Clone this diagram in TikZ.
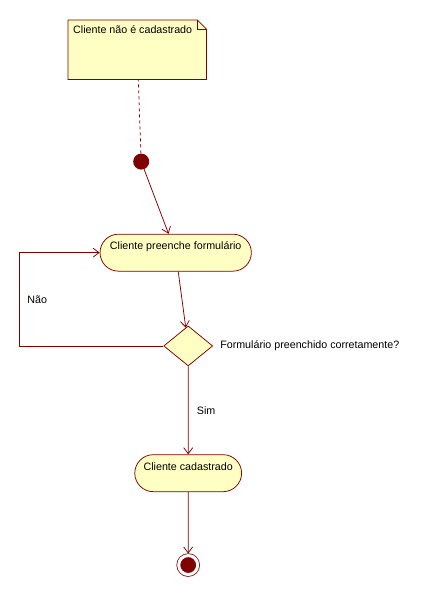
\documentclass[tikz,border=0pt]{standalone}
\usepackage{fontspec}
\setmainfont{Liberation Sans}
\usetikzlibrary{shapes.geometric,shapes.misc,arrows.meta,positioning,backgrounds}
\definecolor{umlline}{RGB}{128,0,0}
\definecolor{umlfill}{RGB}{255,255,196}

\begin{document}
\begin{tikzpicture}[
    font=\fontsize{10.7}{13}\selectfont,
    >={Straight Barb[length=6pt,width=9pt]},
    every edge/.style={draw=umlline, line width=0.75pt},
    note/.style={rectangle, minimum width=138pt, minimum height=59pt, inner sep=0pt},
    action/.style={rounded rectangle, draw=umlline, fill=umlfill, line width=0.75pt,
                   minimum height=37pt, text height=8pt, text depth=14pt},
    initial/.style={circle, fill=umlline, minimum size=16pt, inner sep=0pt},
    final/.style={circle, draw=umlline, fill=umlline, line width=0.75pt,
                  double=white, double distance=3pt, minimum size=19pt,
                  inner sep=0pt, outer sep=2pt},
    decision/.style={diamond, draw=umlline, fill=umlfill, line width=0.75pt,
                     minimum width=49pt, minimum height=40pt, inner sep=0pt},
    txt/.style={inner sep=0pt}]
    \useasboundingbox (0,0) rectangle (424pt,-593pt);

    \node[note] (note) [anchor=north west] at (68pt,-20pt)
      [label={[anchor=north west, inner sep=5pt]north west:Cliente não é cadastrado}] {};
    \node[initial] (start) [below=74pt of note, xshift=4pt] {}
      edge [dash pattern=on 3pt off 3pt] (note);

    \node[action, minimum width=158pt] (preenche) [below=64pt of start, xshift=34.5pt] {Cliente preenche formulário}
      edge [<-] (start);

    \node[decision] (check) [below=54pt of preenche, xshift=12.5pt] {}
      edge [<-] (preenche);
    \node[txt] (question) [right=7pt of check] {Formulário preenchido corretamente?};

    \node[action, minimum width=113.5pt] (cadastrado) [below=88pt of check] {Cliente cadastrado}
      edge [<-] node [right=5pt] {Sim} (check);

    \node[final] (end) [below=61.5pt of cadastrado] {}
      edge [<-] (cadastrado);

    \draw[->, draw=umlline, line width=0.75pt] (check.west)
      -| node [pos=0.75, right=4pt] {Não} ([xshift=-80pt]preenche.west) -- (preenche.west);

    % note with folded corner
    \begin{scope}[on background layer]
      \draw[draw=umlline, fill=umlfill, line width=0.75pt]
        (note.south west) -- (note.north west) -- ([xshift=-9pt]note.north east)
        -- ([yshift=-9pt]note.north east) -- (note.south east) -- cycle;
      \draw[draw=umlline, line width=0.75pt]
        ([xshift=-9pt]note.north east) -- ([xshift=-9pt,yshift=-9pt]note.north east)
        -- ([yshift=-9pt]note.north east);
    \end{scope}
\end{tikzpicture}
\end{document}
